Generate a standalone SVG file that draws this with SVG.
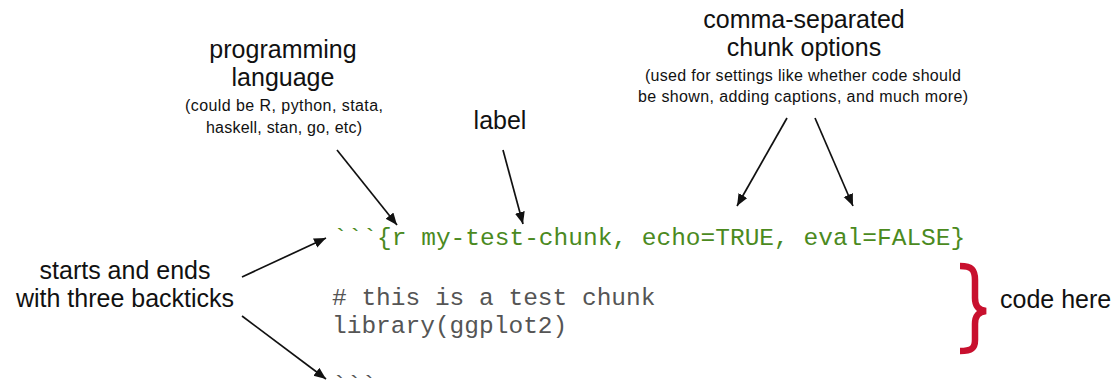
<svg xmlns="http://www.w3.org/2000/svg" width="1115" height="380" viewBox="0 0 1115 380">
<style>
.t{font-family:"Liberation Sans",Arial,sans-serif;fill:#111;text-anchor:middle}
.big{font-size:25px}
.small{font-size:16px}
.code{font-family:"Liberation Mono","Courier New",monospace;font-size:24.5px}
.green{fill:#4b8a1e}
.gray{fill:#555}
.arr{stroke:#111;stroke-width:1.7;fill:none;marker-end:url(#ah)}
</style>
<defs>
<marker id="ah" markerUnits="userSpaceOnUse" markerWidth="14" markerHeight="12" refX="12" refY="5" orient="auto">
<path d="M0,0 L12,5 L0,10 Z" fill="#111"/>
</marker>
</defs>
<rect width="1115" height="380" fill="#fff"/>
<g id="lang">
<text class="t big" x="283" y="58">programming</text>
<text class="t big" x="283" y="86">language</text>
<text class="t small" x="284" y="111" textLength="198" lengthAdjust="spacing">(could be R, python, stata,</text>
<text class="t small" x="284" y="133" textLength="156" lengthAdjust="spacing">haskell, stan, go, etc)</text>
</g>
<g id="label">
<text class="t big" x="500" y="129">label</text>
</g>
<g id="options">
<text class="t big" x="804" y="28">comma-separated</text>
<text class="t big" x="804" y="56">chunk options</text>
<text class="t small" x="803" y="81" textLength="316" lengthAdjust="spacing">(used for settings like whether code should</text>
<text class="t small" x="803" y="102" textLength="330" lengthAdjust="spacing">be shown, adding captions, and much more)</text>
</g>
<g id="backticks">
<text class="t big" x="125" y="279">starts and ends</text>
<text class="t big" x="125" y="307">with three backticks</text>
</g>
<g id="code">
<text class="code green" x="333" y="245">```{r my-test-chunk, echo=TRUE, eval=FALSE}</text>
<text class="code gray" x="332" y="305"># this is a test chunk</text>
<text class="code gray" x="332" y="333">library(ggplot2)</text>
<text class="code gray" x="332" y="392">```</text>
</g>
<g id="codehere">
<path d="M960 266 C972 266 975 270 975 280 L975 298 C975 306 978 310 986 311 C978 312 975 316 975 324 L975 340 C975 348 972 351 960 351" fill="none" stroke="#c8102e" stroke-width="6.5"/>
<text class="t big" x="1000" y="308" style="text-anchor:start">code here</text>
</g>
<g id="connectors">
<line class="arr" x1="337" y1="150" x2="397" y2="225"/>
<line class="arr" x1="503" y1="150" x2="523" y2="224"/>
<line class="arr" x1="787" y1="118" x2="737" y2="206"/>
<line class="arr" x1="815" y1="118" x2="853" y2="206"/>
<line class="arr" x1="242" y1="277" x2="326" y2="238"/>
<line class="arr" x1="242" y1="316" x2="326" y2="379"/>
</g>
</svg>
